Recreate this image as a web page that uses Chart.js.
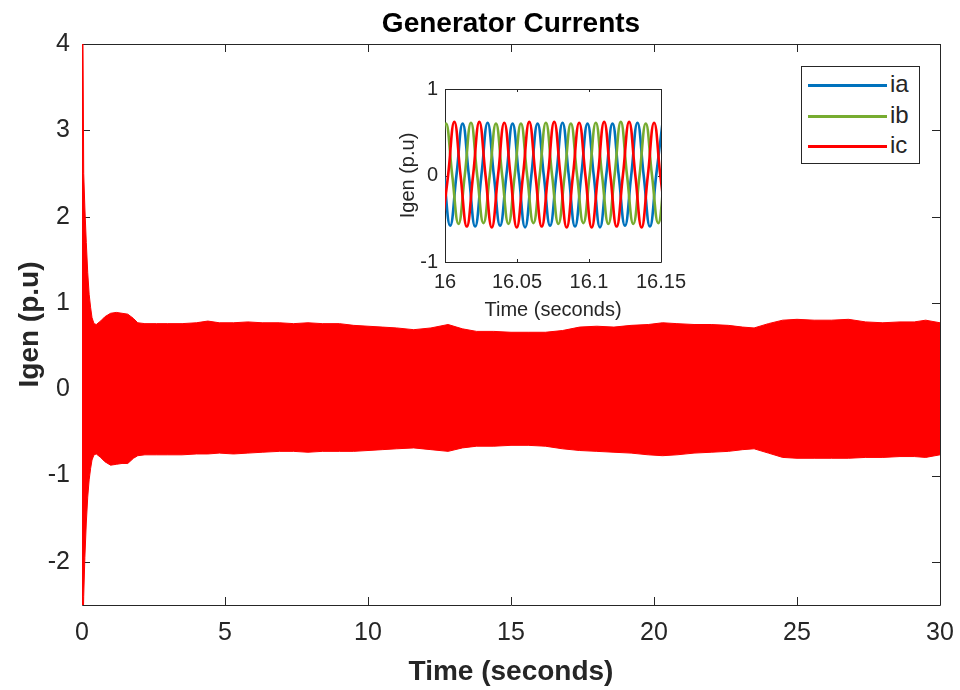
<!DOCTYPE html>
<html>
<head>
<meta charset="utf-8">
<title>Generator Currents</title>
<script src="https://cdn.jsdelivr.net/npm/chart.js@4.4.1/dist/chart.umd.min.js"></script>
<style>
  body { margin: 0; background: #fff; }
  #wrap { position: relative; width: 960px; height: 690px; }
  #main { position: absolute; left: 0; top: 0; }
  #inset { position: absolute; left: 355px; top: 70px; }
  #legend {
    position: absolute; left: 801px; top: 66px; width: 119px; height: 98px;
    box-sizing: border-box; border: 1px solid #262626; background: #fff;
    font: 24px "Liberation Sans", Arial, sans-serif; color: #262626;
  }
  #legend .row { position: absolute; left: 0; height: 30px; line-height: 30px; width: 100%; }
  #legend .swatch { position: absolute; left: 6px; top: 14px; width: 79px; height: 3px; }
  #legend .name { position: absolute; left: 88px; top: -1px; }
</style>
</head>
<body>
<div id="wrap">
  <canvas id="main" width="960" height="690"></canvas>
  <canvas id="inset" width="345" height="255"></canvas>
  <div id="legend"></div>
</div>
<script>
// envelope of the full 0-30 s run (the three phases overlap into one band)
const envTime = [0, 0.03, 0.06, 0.1, 0.15, 0.2, 0.25, 0.3, 0.35, 0.42, 0.5, 0.65, 0.8, 1.0, 1.2, 1.4, 1.6, 1.8, 1.95,
  2.2, 2.6, 3.0, 3.5, 4.0, 4.4, 4.8, 5.3, 5.8, 6.3, 6.9, 7.4, 7.9, 8.4, 9.0, 9.5, 10.0, 10.5, 11.0, 11.6, 12.2,
  12.8, 13.3, 13.8, 14.4, 15.0, 15.6, 16.2, 16.8, 17.4, 18.0, 18.6, 19.2, 19.8, 20.3, 20.8, 21.4, 22.0, 22.6,
  23.1, 23.5, 24.0, 24.5, 25.0, 25.6, 26.2, 26.8, 27.4, 28.0, 28.6, 29.1, 29.5, 30.0];
const envUpper = [4.6, 4.3, 2.5, 2.1, 1.7, 1.35, 1.1, 0.95, 0.83, 0.76, 0.75, 0.79, 0.84, 0.88, 0.89, 0.88, 0.87, 0.82, 0.77,
  0.76, 0.76, 0.76, 0.76, 0.77, 0.79, 0.77, 0.77, 0.78, 0.77, 0.77, 0.76, 0.77, 0.76, 0.76, 0.74, 0.73, 0.72, 0.71, 0.69, 0.71,
  0.75, 0.70, 0.67, 0.67, 0.66, 0.66, 0.66, 0.68, 0.72, 0.73, 0.72, 0.74, 0.75, 0.77, 0.76, 0.75, 0.75, 0.74,
  0.72, 0.71, 0.76, 0.80, 0.81, 0.80, 0.80, 0.81, 0.78, 0.77, 0.78, 0.78, 0.80, 0.77];
const envLower = [-3.0, -2.9, -2.4, -1.95, -1.55, -1.25, -1.05, -0.92, -0.82, -0.76, -0.75, -0.79, -0.84, -0.88, -0.87, -0.86, -0.86, -0.80, -0.77,
  -0.76, -0.76, -0.76, -0.76, -0.75, -0.75, -0.74, -0.75, -0.74, -0.73, -0.72, -0.72, -0.73, -0.72, -0.72, -0.72, -0.71, -0.70, -0.69, -0.68, -0.70,
  -0.72, -0.68, -0.66, -0.66, -0.65, -0.65, -0.66, -0.69, -0.71, -0.72, -0.73, -0.74, -0.76, -0.77, -0.76, -0.74, -0.73, -0.72,
  -0.70, -0.69, -0.74, -0.79, -0.80, -0.80, -0.80, -0.80, -0.79, -0.79, -0.78, -0.78, -0.79, -0.76];

const xTicks = [0, 5, 10, 15, 20, 25, 30];
const yTicks = [-2, -1, 0, 1, 2, 3, 4];

// zoomed window 16.00-16.15 s, sampled at every quarter cycle (zero, peak, zero, trough)
const quarterStep = 0.004335;
const iaStart = 15.99926;
const ia = [0, -0.58, 0, 0.60, 0, -0.59, 0, 0.61, 0, -0.58, 0, 0.60, 0, -0.60, 0, 0.60, 0, -0.58, 0, 0.61,
  0, -0.59, 0, 0.60, 0, -0.60, 0, 0.60, 0, -0.58, 0, 0.61, 0, -0.59, 0, 0.60];
const ibStart = 15.99637;
const ib = [0, 0.60, 0, -0.56, 0, 0.61, 0, -0.55, 0, 0.60, 0, -0.56, 0, 0.60, 0, -0.55, 0, 0.61, 0, -0.56,
  0, 0.60, 0, -0.55, 0, 0.61, 0, -0.56, 0, 0.62, 0, -0.56, 0, 0.60, 0, -0.55, 0];
const icStart = 15.99781;
const ic = [-0.60, 0, 0.62, 0, -0.59, 0, 0.62, 0, -0.60, 0, 0.61, 0, -0.60, 0, 0.62, 0, -0.59, 0, 0.62, 0,
  -0.60, 0, 0.61, 0, -0.60, 0, 0.62, 0, -0.59, 0, 0.62, 0, -0.60, 0, 0.61, 0, -0.60];

const insetXTicks = [16, 16.05, 16.1, 16.15];
const insetYTicks = [-1, 0, 1];

const phases = [
  { name: 'ia', color: '#0072BD', start: iaStart, values: ia },
  { name: 'ib', color: '#77AC30', start: ibStart, values: ib },
  { name: 'ic', color: '#FF0000', start: icStart, values: ic }
];

const FONT = '"Liberation Sans", Arial, Helvetica, sans-serif';
const AXIS = '#262626';

// box around the plot area with short inward tick marks on all four sides
const axesBox = {
  id: 'axesBox',
  beforeDatasetsDraw(chart, args, opts) {
    const { ctx, chartArea: a, scales: { x, y } } = chart;
    const len = opts.tickLen;
    ctx.save();
    ctx.fillStyle = '#fff';
    ctx.fillRect(a.left, a.top, a.right - a.left, a.bottom - a.top);
    ctx.strokeStyle = AXIS;
    ctx.lineWidth = 1;
    ctx.beginPath();
    ctx.rect(Math.round(a.left) + 0.5, Math.round(a.top) + 0.5,
      Math.round(a.right - a.left), Math.round(a.bottom - a.top));
    x.ticks.forEach(t => {
      const px = Math.round(x.getPixelForValue(t.value)) + 0.5;
      ctx.moveTo(px, a.bottom); ctx.lineTo(px, a.bottom - len);
      ctx.moveTo(px, a.top); ctx.lineTo(px, a.top + len);
    });
    y.ticks.forEach(t => {
      const py = Math.round(y.getPixelForValue(t.value)) + 0.5;
      ctx.moveTo(a.left, py); ctx.lineTo(a.left + len, py);
      ctx.moveTo(a.right, py); ctx.lineTo(a.right - len, py);
    });
    ctx.stroke();
    ctx.restore();
  }
};

const toPoints = (times, values) => values.map((v, i) => ({ x: times[i], y: v }));

// fixed axis sizes so the plot box lands where it should
const fixHeight = h => s => { s.height = h; s.paddingLeft = 0; s.paddingRight = 0; };
const fixWidth = w => s => { s.width = w; };

new Chart(document.getElementById('main'), {
  type: 'line',
  data: {
    datasets: [
      {
        label: 'upper',
        data: toPoints(envTime, envUpper),
        borderColor: '#FF0000',
        backgroundColor: '#FF0000',
        borderWidth: 1,
        pointRadius: 0,
        tension: 0,
        fill: '+1'
      },
      {
        label: 'lower',
        data: toPoints(envTime, envLower),
        borderColor: '#FF0000',
        borderWidth: 1,
        pointRadius: 0,
        tension: 0,
        fill: false
      }
    ]
  },
  options: {
    responsive: false,
    animation: false,
    devicePixelRatio: 1,
    layout: { padding: { left: 0, right: 20, top: 0, bottom: 0 } },
    plugins: {
      legend: { display: false },
      tooltip: { enabled: false },
      axesBox: { tickLen: 8 }
    },
    scales: {
      x: {
        type: 'linear',
        min: 0,
        max: 30,
        afterBuildTicks: s => { s.ticks = xTicks.map(v => ({ value: v })); },
        afterFit: fixHeight(85),
        grid: { display: false, drawTicks: false },
        border: { display: false },
        ticks: { color: AXIS, font: { family: FONT, size: 25 }, padding: 13, callback: v => String(v), maxRotation: 0 },
        title: { display: true, text: 'Time (seconds)', color: AXIS, font: { family: FONT, size: 28, weight: 'bold' }, padding: { top: 0, bottom: 1 } }
      },
      // top edge only carries the figure title, centred over the plot box
      top: {
        type: 'linear',
        position: 'top',
        min: 0,
        max: 30,
        afterFit: fixHeight(44),
        grid: { display: false, drawTicks: false },
        border: { display: false },
        ticks: { display: false },
        title: { display: true, text: 'Generator Currents', color: '#000', font: { family: FONT, size: 28, weight: 'bold' }, padding: { top: 7, bottom: 0 } }
      },
      y: {
        type: 'linear',
        min: -2.5,
        max: 4,
        afterBuildTicks: s => { s.ticks = yTicks.map(v => ({ value: v })); },
        afterFit: fixWidth(82),
        grid: { display: false, drawTicks: false },
        border: { display: false },
        ticks: { color: AXIS, font: { family: FONT, size: 25 }, padding: 12, callback: v => String(v) },
        title: { display: true, text: 'Igen (p.u)', color: AXIS, font: { family: FONT, size: 28, weight: 'bold' }, padding: { top: 13, bottom: 0 } }
      }
    }
  },
  plugins: [axesBox]
});

new Chart(document.getElementById('inset'), {
  type: 'line',
  data: {
    datasets: phases.map((p, k) => ({
      label: p.name,
      data: p.values.map((v, i) => ({ x: p.start + i * quarterStep, y: v })),
      borderColor: p.color,
      borderWidth: 2.6,
      pointRadius: 0,
      tension: 0.45,
      fill: false,
      order: phases.length - k
    }))
  },
  options: {
    responsive: false,
    animation: false,
    devicePixelRatio: 1,
    layout: { padding: { left: 41, right: 39, top: 18, bottom: 0 } },
    plugins: {
      legend: { display: false },
      tooltip: { enabled: false },
      axesBox: { tickLen: 3 }
    },
    scales: {
      x: {
        type: 'linear',
        min: 16,
        max: 16.15,
        afterBuildTicks: s => { s.ticks = insetXTicks.map(v => ({ value: v })); },
        afterFit: fixHeight(63),
        grid: { display: false, drawTicks: false },
        border: { display: false },
        ticks: { color: AXIS, font: { family: FONT, size: 20 }, padding: 8, callback: v => String(v), maxRotation: 0 },
        title: { display: true, text: 'Time (seconds)', color: AXIS, font: { family: FONT, size: 20 }, padding: { top: 0, bottom: 3 } }
      },
      y: {
        type: 'linear',
        min: -1,
        max: 1,
        afterBuildTicks: s => { s.ticks = insetYTicks.map(v => ({ value: v })); },
        afterFit: fixWidth(49),
        grid: { display: false, drawTicks: false },
        border: { display: false },
        ticks: { color: AXIS, font: { family: FONT, size: 20 }, padding: 7, callback: v => String(v) },
        title: { display: true, text: 'Igen (p.u)', color: AXIS, font: { family: FONT, size: 20 }, padding: { top: 0, bottom: 0 } }
      }
    }
  },
  plugins: [axesBox]
});

// legend box listing the three phase currents
const legend = document.getElementById('legend');
phases.forEach((p, i) => {
  const row = document.createElement('div');
  row.className = 'row';
  row.style.top = (3 + i * 30.5) + 'px';
  row.innerHTML = '<span class="swatch" style="background:' + p.color + '"></span><span class="name">' + p.name + '</span>';
  legend.appendChild(row);
});
</script>
</body>
</html>
